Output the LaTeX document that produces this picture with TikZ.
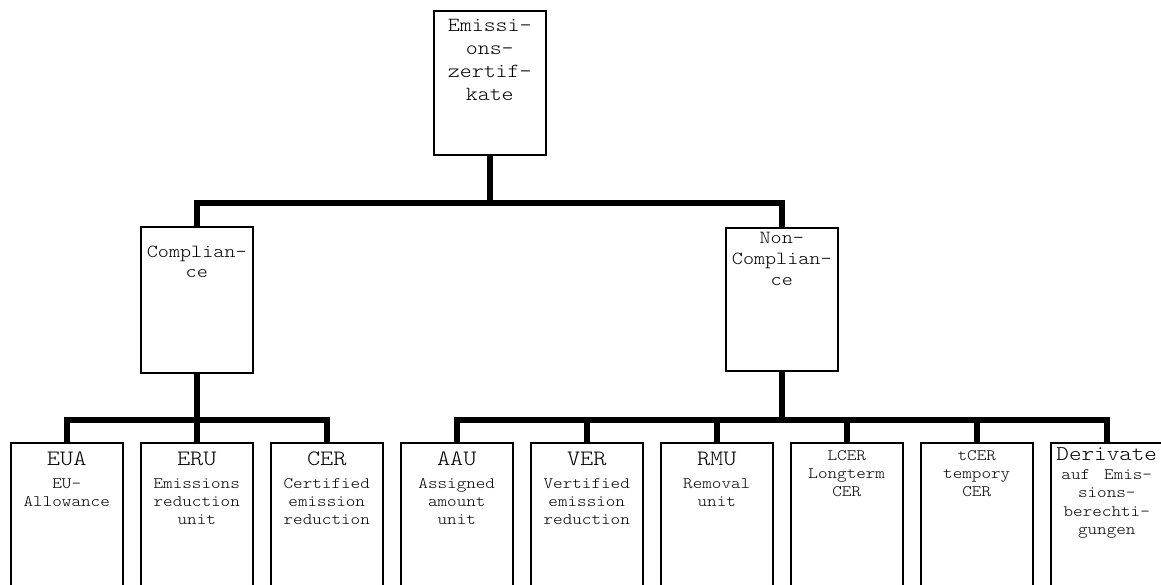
\documentclass[tikz,border=0pt]{standalone}
\usepackage{fontspec}
\setmainfont{Latin Modern Mono Light}[FakeStretch=1.14]
\newcommand\pbx[2]{\parbox[t][#1][t]{112pt}{\centering #2}}
\newcommand\fs[2]{\fontsize{#1}{#2}\selectfont}
\begin{document}
\begin{tikzpicture}[x=1pt,y=1pt,
  box/.style={draw, line width=1.5pt, inner sep=0pt, anchor=north west, fill=white},
  conn/.style={line width=5.5pt}]
\useasboundingbox (0,0) rectangle (1161,-584);
\clip (0,0) rectangle (1161,-584);
\fill[white] (0,0) rectangle (1161,-584);
% top
\node[box] (top) at (433,-10) {\pbx{144pt}{\fs{20}{23}\rule{0pt}{21pt}Emissi-\\ons-\\zertif-\\kate}};
% second level
\node[box] (comp) at (140,-226) {\pbx{146pt}{\fs{18.5}{20}\rule{0pt}{31pt}Complian-\\ce}};
\node[box] (nc) at (725,-227) {\pbx{143pt}{\fs{18.5}{21}\rule{0pt}{16pt}Non-\\Complian-\\ce}};
% third level
\node[box] (eua) at (10,-442) {\pbx{160pt}{{\fs{22}{22}\rule{0pt}{23pt}EUA\par}\fs{16}{18}\rule{0pt}{21pt}EU-\\Allowance}};
\node[box] (eru) at (140,-442) {\pbx{160pt}{{\fs{22}{22}\rule{0pt}{23pt}ERU\par}\fs{16}{18}\rule{0pt}{21pt}Emissions\\reduction\\unit}};
\node[box] (cer) at (270,-442) {\pbx{160pt}{{\fs{22}{22}\rule{0pt}{23pt}CER\par}\fs{16}{18}\rule{0pt}{21pt}Certified\\emission\\reduction}};
\node[box] (aau) at (400,-442) {\pbx{160pt}{{\fs{22}{22}\rule{0pt}{23pt}AAU\par}\fs{16}{18}\rule{0pt}{21pt}Assigned\\amount\\unit}};
\node[box] (ver) at (530,-442) {\pbx{160pt}{{\fs{22}{22}\rule{0pt}{23pt}VER\par}\fs{16}{18}\rule{0pt}{21pt}Vertified\\emission\\reduction}};
\node[box] (rmu) at (660,-442) {\pbx{160pt}{{\fs{22}{22}\rule{0pt}{23pt}RMU\par}\fs{16}{18}\rule{0pt}{21pt}Removal\\unit}};
\node[box] (lcer) at (790,-442) {\pbx{160pt}{\fs{16}{18}\rule{0pt}{18pt}LCER\\Longterm\\CER}};
\node[box] (tcer) at (920,-442) {\pbx{160pt}{\fs{16}{18}\rule{0pt}{18pt}tCER\\tempory\\CER}};
\node[box] (der) at (1050,-442) {\pbx{160pt}{{\fs{21}{21}\rule{0pt}{18pt}Derivate\par}\fs{16}{18.5}\rule{0pt}{18pt}auf\hspace{14pt}Emis-\\sions-\\berechti-\\gungen}};
% connectors
\coordinate (b1) at (0,-203);
\coordinate (b2) at (0,-420);
\draw[conn] (top.south) -- (top.south |- b1) -| (comp.north);
\draw[conn] (top.south |- b1) -| (nc.north);
\draw[conn] (comp.south) -- (comp.south |- b2) -| (eua.north);
\draw[conn] (comp.south |- b2) -| (cer.north);
\draw[conn] (comp.south |- b2) -- (eru.north);
\draw[conn] (nc.south) -- (nc.south |- b2) -| (aau.north);
\draw[conn] (nc.south |- b2) -| (der.north);
\draw[conn] (ver.north |- b2) -- (ver.north);
\draw[conn] (rmu.north |- b2) -- (rmu.north);
\draw[conn] (lcer.north |- b2) -- (lcer.north);
\draw[conn] (tcer.north |- b2) -- (tcer.north);
\end{tikzpicture}
\end{document}
